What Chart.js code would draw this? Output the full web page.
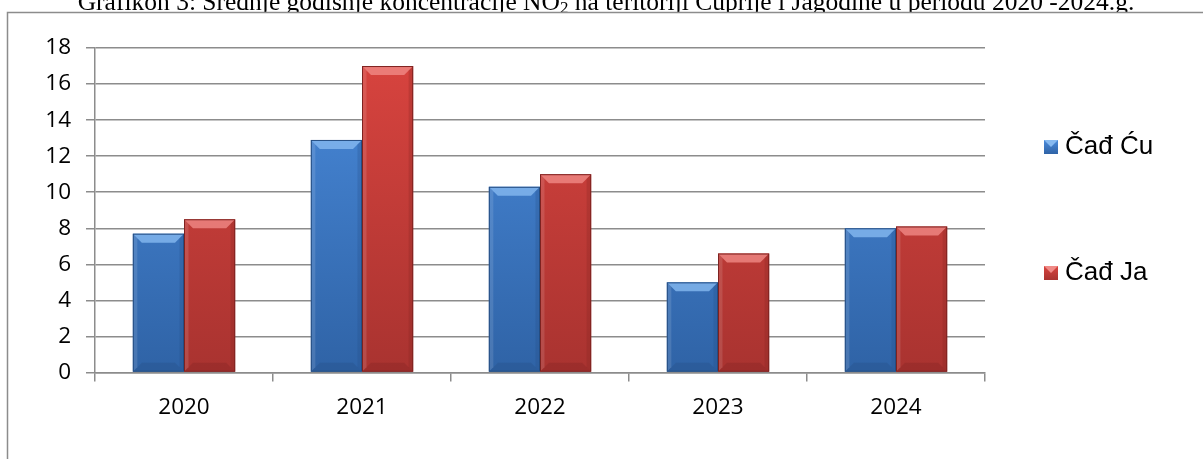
<!DOCTYPE html>
<html>
<head>
<meta charset="utf-8">
<script src="https://cdn.jsdelivr.net/npm/chart.js@4/dist/chart.umd.min.js"></script>
<style>
  html, body { margin: 0; padding: 0; background: #fff; }
  #wrap { position: relative; width: 1203px; height: 459px; }
</style>
</head>
<body>
<div id="wrap"><canvas id="chart" width="1203" height="459"></canvas></div>
<script>
// data
const years = ['2020', '2021', '2022', '2023', '2024'];
const cadCu = [7.7, 12.9, 10.3, 5.0, 8.0];
const cadJa = [8.5, 17.0, 11.0, 6.6, 8.1];
const seriesNames = ['Čađ Ću', 'Čađ Ja'];
const yMin = 0, yMax = 18, yStep = 2;

const titleParts = ['Grafikon 3: Srednje godišnje koncentracije NO', '2',
    ' na teritoriji Ćuprije i Jagodine u periodu 2020 -2024.g.'];

const palette = [
    { top: '#4a8bdc', bottom: '#2f63a6', light: '#86b9f0', dark: '#244d82' },
    { top: '#d9443f', bottom: '#a93330', light: '#f08a86', dark: '#7e2220' }
];

function barFill(i) {
    return function(ctx) {
        const area = ctx.chart.chartArea;
        if (!area) return palette[i].top;
        const g = ctx.chart.ctx.createLinearGradient(0, area.top, 0, area.bottom);
        g.addColorStop(0, palette[i].top);
        g.addColorStop(1, palette[i].bottom);
        return g;
    };
}

// frame, title, bevels and legend
const decor = {
    id: 'decor',
    beforeDraw(chart) {
        const c = chart.ctx;
        c.save();
        c.fillStyle = '#fff';
        c.fillRect(0, 0, chart.width, chart.height);

        // title, cut at the top like in the source
        c.fillStyle = '#000';
        c.textBaseline = 'alphabetic';
        const big = '25.5px "Liberation Serif", "Times New Roman", serif';
        const small = '17px "Liberation Serif", "Times New Roman", serif';
        c.font = big;
        const w0 = c.measureText(titleParts[0]).width;
        const w2 = c.measureText(titleParts[2]).width;
        c.font = small;
        const w1 = c.measureText(titleParts[1]).width;
        let x = 606 - (w0 + w1 + w2) / 2;
        const base = 9.5;
        c.font = big;
        c.fillText(titleParts[0], x, base);
        x += w0;
        c.font = small;
        c.fillText(titleParts[1], x, base + 3);
        x += w1;
        c.font = big;
        c.fillText(titleParts[2], x, base);

        c.fillStyle = '#fff';
        c.fillRect(0, 12, chart.width, 4);
        c.strokeStyle = '#8c8c8c';
        c.lineWidth = 1.5;
        c.beginPath();
        c.moveTo(7.5, chart.height + 5);
        c.lineTo(7.5, 12.5);
        c.lineTo(chart.width + 5, 12.5);
        c.stroke();
        c.restore();
    },
    afterDatasetsDraw(chart) {
        const c = chart.ctx;
        c.save();
        chart.data.datasets.forEach((ds, i) => {
            chart.getDatasetMeta(i).data.forEach(bar => {
                const l = bar.x - bar.width / 2, r = bar.x + bar.width / 2;
                const t = bar.y, b = bar.base;
                const e = Math.min(9, (b - t) / 3);
                // top bevel
                c.fillStyle = palette[i].light;
                c.globalAlpha = 0.8;
                c.beginPath();
                c.moveTo(l, t); c.lineTo(r, t); c.lineTo(r - e, t + e); c.lineTo(l + e, t + e);
                c.closePath(); c.fill();
                // side shading
                c.globalAlpha = 0.25;
                c.fillStyle = palette[i].dark;
                c.beginPath();
                c.moveTo(r, t); c.lineTo(r, b); c.lineTo(r - e / 2, b - e / 2); c.lineTo(r - e / 2, t + e / 2);
                c.closePath(); c.fill();
                c.globalAlpha = 0.12;
                c.fillStyle = '#ffffff';
                c.beginPath();
                c.moveTo(l, t); c.lineTo(l, b); c.lineTo(l + e / 2, b - e / 2); c.lineTo(l + e / 2, t + e / 2);
                c.closePath(); c.fill();
                // bottom bevel
                c.globalAlpha = 0.3;
                c.fillStyle = palette[i].dark;
                c.beginPath();
                c.moveTo(l, b); c.lineTo(r, b); c.lineTo(r - e, b - e); c.lineTo(l + e, b - e);
                c.closePath(); c.fill();
                c.globalAlpha = 1;
                c.strokeStyle = palette[i].dark;
                c.lineWidth = 1;
                c.strokeRect(l + 0.5, t + 0.5, r - l - 1, b - t - 1);
            });
        });
        c.restore();
    },
    afterDraw(chart) {
        const c = chart.ctx;
        c.save();
        const itemsY = [147, 273];
        seriesNames.forEach((name, i) => {
            const y = itemsY[i];
            const bx = 1044, s = 14;
            const g = c.createLinearGradient(0, y - s / 2, 0, y + s / 2);
            g.addColorStop(0, palette[i].top);
            g.addColorStop(1, palette[i].bottom);
            c.fillStyle = g;
            c.fillRect(bx, y - s / 2, s, s);
            c.fillStyle = palette[i].light;
            c.beginPath();
            c.moveTo(bx, y - s / 2); c.lineTo(bx + s, y - s / 2); c.lineTo(bx + s / 2, y);
            c.closePath(); c.fill();
            c.fillStyle = '#000';
            c.font = '26px "Liberation Sans", Arial, sans-serif';
            c.textBaseline = 'middle';
            c.fillText(name, 1065, y);
        });
        c.restore();
    }
};

const chart = new Chart(document.getElementById('chart'), {
    type: 'bar',
    data: {
        labels: years,
        datasets: [
            { label: seriesNames[0], data: cadCu, backgroundColor: barFill(0), borderWidth: 0 },
            { label: seriesNames[1], data: cadJa, backgroundColor: barFill(1), borderWidth: 0 }
        ]
    },
    options: {
        responsive: false,
        animation: false,
        devicePixelRatio: 1,
        categoryPercentage: 0.575,
        barPercentage: 1.0,
        layout: { padding: { left: 0, top: 48, right: 218, bottom: 0 } },
        plugins: {
            legend: { display: false },
            tooltip: { enabled: false },
            title: { display: false }
        },
        scales: {
            x: {
                offset: true,
                grid: {
                    offset: true,
                    drawOnChartArea: false,
                    drawTicks: true,
                    tickLength: 9,
                    color: '#8c8c8c',
                    lineWidth: 1.5
                },
                border: { color: '#8c8c8c', width: 1.5 },
                ticks: {
                    color: '#000',
                    padding: 13,
                    font: { family: '"Open Sans", Lato, sans-serif', size: 22.5 }
                },
                afterFit: s => { s.height = 86.5; }
            },
            y: {
                min: yMin,
                max: yMax,
                ticks: {
                    stepSize: yStep,
                    color: '#000',
                    padding: 15,
                    font: { family: '"Open Sans", Lato, sans-serif', size: 22.5 }
                },
                grid: {
                    color: '#8c8c8c',
                    lineWidth: 1.5,
                    tickLength: 9
                },
                border: { color: '#8c8c8c', width: 1.5 },
                afterFit: s => { s.width = 95; }
            }
        }
    },
    plugins: [decor]
});
</script>
</body>
</html>
